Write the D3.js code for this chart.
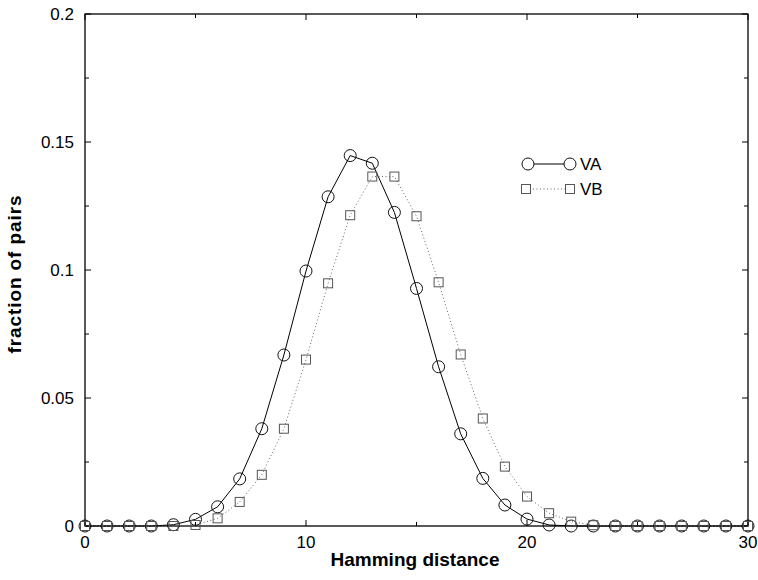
<!DOCTYPE html>
<html>
<head>
<meta charset="utf-8">
<script src="https://cdn.jsdelivr.net/npm/d3@7"></script>
<style>
  body { margin: 0; background: #fff; }
  text { font-family: "Liberation Sans", Arial, sans-serif; fill: #000; }
</style>
</head>
<body>
<div class="chart"></div>
<script>
// values
let hamming = d3.range(0, 31)
let va = [0, 0, 0, 0, 0.0005, 0.0026, 0.0075, 0.0184, 0.038, 0.0668, 0.0996, 0.1286, 0.1447, 0.1417, 0.1225,
  0.0928, 0.0622, 0.036, 0.0186, 0.0082, 0.0027, 0.0004, 0, 0, 0, 0, 0, 0, 0, 0, 0]
let vb = [0, 0, 0, 0, 0, 0.0004, 0.003, 0.0094, 0.02, 0.038, 0.065, 0.0948, 0.1214, 0.1365, 0.1365,
  0.121, 0.0952, 0.067, 0.042, 0.0232, 0.0115, 0.005, 0.0017, 0.0003, 0, 0, 0, 0, 0, 0, 0]
let xTicks = [0, 10, 20, 30]
let xMinor = [5, 15, 25]
let yTicks = [0, 0.05, 0.1, 0.15, 0.2]
let yMinor = [0.025, 0.075, 0.125, 0.175]
let series = ["VA", "VB"]

let w = 758
let h = 580
let padL = 85, padR = 748, padT = 14, padB = 526

let svg = d3.select(".chart")
  .append("svg")
  .attr("width", w)
  .attr("height", h)

const xScale = d3.scaleLinear().domain([0, 30]).range([padL, padR])
const yScale = d3.scaleLinear().domain([0, 0.2]).range([padB, padT])

// frame
svg.append("rect")
  .attr("x", padL).attr("y", padT)
  .attr("width", padR - padL).attr("height", padB - padT)
  .attr("fill", "none").attr("stroke", "#000").attr("stroke-width", 1.3)

// ticks point inward on all four sides
let tickG = svg.append("g").attr("stroke", "#000").attr("stroke-width", 1)
let addX = (vals, len) => {
  vals.forEach(v => {
    tickG.append("line").attr("x1", xScale(v)).attr("x2", xScale(v)).attr("y1", padB).attr("y2", padB - len)
    tickG.append("line").attr("x1", xScale(v)).attr("x2", xScale(v)).attr("y1", padT).attr("y2", padT + len)
  })
}
let addY = (vals, len) => {
  vals.forEach(v => {
    tickG.append("line").attr("y1", yScale(v)).attr("y2", yScale(v)).attr("x1", padL).attr("x2", padL + len)
    tickG.append("line").attr("y1", yScale(v)).attr("y2", yScale(v)).attr("x1", padR).attr("x2", padR - len)
  })
}
addX(xTicks, 6); addX(xMinor, 4)
addY(yTicks, 6); addY(yMinor, 4)

svg.selectAll(".xlab")
  .data(xTicks)
  .enter()
  .append("text")
  .attr("class", "xlab")
  .attr("x", d => xScale(d))
  .attr("y", padB + 22)
  .attr("text-anchor", "middle")
  .style("font-size", "17px")
  .text(d => d)

svg.selectAll(".ylab")
  .data(yTicks)
  .enter()
  .append("text")
  .attr("class", "ylab")
  .attr("x", padL - 11)
  .attr("y", d => yScale(d) + 6)
  .attr("text-anchor", "end")
  .style("font-size", "17px")
  .text(d => d)

svg.append("text")
  .attr("x", 415)
  .attr("y", 566)
  .attr("text-anchor", "middle")
  .style("font-size", "19px")
  .style("font-weight", "bold")
  .text("Hamming distance")

svg.append("text")
  .attr("transform", "translate(21,274) rotate(-90)")
  .attr("text-anchor", "middle")
  .style("font-size", "19px")
  .style("font-weight", "bold")
  .style("letter-spacing", "0.9px")
  .text("fraction of pairs")

let line = d3.line().x((d, i) => xScale(hamming[i])).y(d => yScale(d))

// VA: solid line + circles
svg.append("path")
  .datum(va)
  .attr("d", line)
  .attr("fill", "none")
  .attr("stroke", "#000")
  .attr("stroke-width", 1)
svg.selectAll(".va")
  .data(va)
  .enter()
  .append("circle")
  .attr("class", "va")
  .attr("cx", (d, i) => xScale(hamming[i]))
  .attr("cy", d => yScale(d))
  .attr("r", 6)
  .attr("fill", "none")
  .attr("stroke", "#111")
  .attr("stroke-width", 1)

// VB: dotted grey line + squares
svg.append("path")
  .datum(vb)
  .attr("d", line)
  .attr("fill", "none")
  .attr("stroke", "#666")
  .attr("stroke-width", 1)
  .attr("stroke-dasharray", "1,2.5")
svg.selectAll(".vb")
  .data(vb)
  .enter()
  .append("rect")
  .attr("class", "vb")
  .attr("x", (d, i) => xScale(hamming[i]) - 4.5)
  .attr("y", d => yScale(d) - 4.5)
  .attr("width", 9)
  .attr("height", 9)
  .attr("fill", "none")
  .attr("stroke", "#555")
  .attr("stroke-width", 1)

// legend
let lg = svg.append("g")
lg.append("line").attr("x1", 528).attr("x2", 570).attr("y1", 164).attr("y2", 164)
  .attr("stroke", "#000").attr("stroke-width", 1)
lg.selectAll(".lc").data([528, 570]).enter().append("circle")
  .attr("cx", d => d).attr("cy", 164).attr("r", 6)
  .attr("fill", "#fff").attr("stroke", "#111")
lg.append("line").attr("x1", 526).attr("x2", 570).attr("y1", 189).attr("y2", 189)
  .attr("stroke", "#666").attr("stroke-width", 1).attr("stroke-dasharray", "1,2.5")
lg.selectAll(".ls").data([526, 570]).enter().append("rect")
  .attr("x", d => d - 4.5).attr("y", 184.5).attr("width", 9).attr("height", 9)
  .attr("fill", "#fff").attr("stroke", "#555")
lg.selectAll(".lt").data(series).enter().append("text")
  .attr("x", 580)
  .attr("y", (d, i) => 170 + i * 25)
  .style("font-size", "17px")
  .text(d => d)
</script>
</body>
</html>
